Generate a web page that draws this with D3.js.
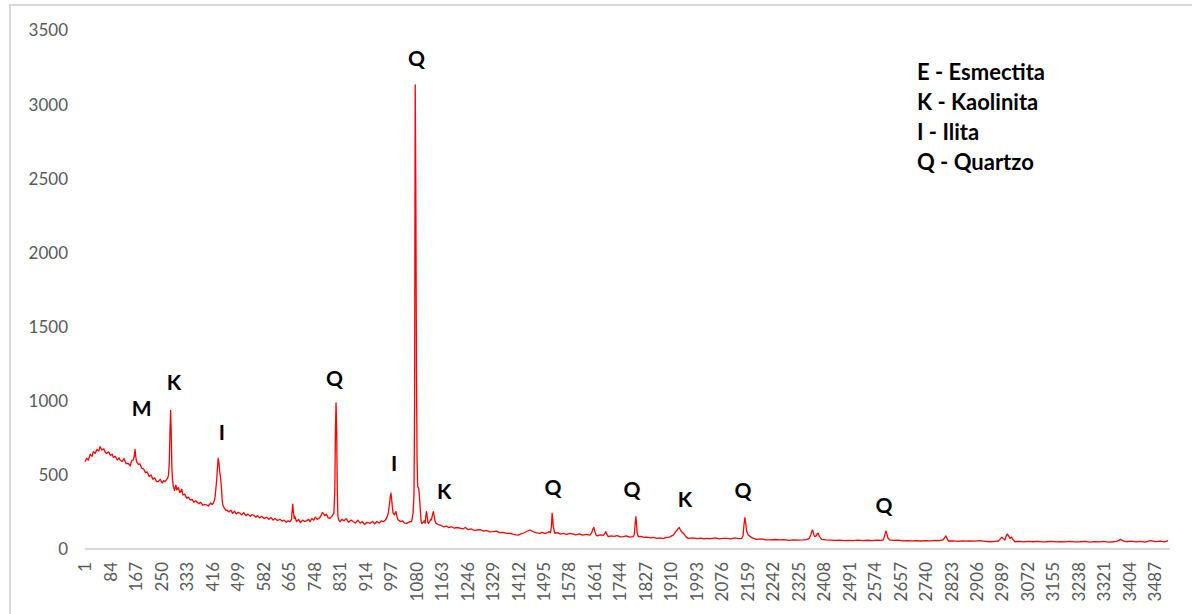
<!DOCTYPE html>
<html lang="en">
<head>
<meta charset="UTF-8">
<title>DRX - argila</title>
<script src="https://cdn.jsdelivr.net/npm/d3@7"></script>
<style>
  body { margin: 0; background: #fff; }
  svg { display: block; }
  .tick text { font-family: Lato, "Open Sans", sans-serif; fill: #595959; }
</style>
</head>
<body>
<svg id="chart" width="1192" height="614"></svg>
<script>
const channel = [1,6,12,18,24,28,34,40,46,50,56,62,68,72,78,84,90,93,100,106,112,115,122,128,135,142,148,153,158,161,164,166,169,175,180,186,192,198,204,210,216,222,228,234,240,246,252,258,262,267,270,273,275,276,278,280,282,284,286,289,293,297,300,305,310,316,320,326,332,338,344,350,356,362,365,372,378,385,390,397,403,410,415,419,423,425,428,430,433,435,437,440,443,446,448,450,455,460,463,470,476,482,488,494,500,506,512,518,525,532,540,545,550,557,563,570,577,585,593,600,607,614,620,628,636,643,650,657,663,669,674,676,678,680,683,685,690,697,703,710,716,723,730,734,740,746,752,758,764,770,774,777,782,788,793,799,805,810,812,815,817,819,821,823,825,828,832,838,845,852,860,868,875,882,890,898,905,912,920,930,938,945,952,960,967,973,980,985,989,993,996,998,1000,1003,1005,1009,1012,1014,1017,1020,1022,1028,1035,1042,1049,1055,1060,1065,1070,1073,1075,1076,1077,1079,1081,1083,1085,1088,1090,1093,1096,1098,1103,1106,1109,1112,1114,1116,1118,1120,1124,1127,1130,1133,1136,1139,1142,1145,1152,1160,1169,1178,1186,1195,1205,1214,1223,1232,1240,1250,1260,1270,1277,1290,1300,1310,1320,1331,1342,1352,1363,1375,1386,1395,1405,1413,1420,1430,1440,1451,1460,1470,1483,1490,1500,1508,1514,1518,1521,1523,1525,1527,1532,1540,1550,1560,1570,1580,1592,1600,1612,1622,1635,1646,1652,1656,1659,1662,1666,1670,1680,1690,1695,1698,1701,1706,1715,1725,1735,1745,1755,1765,1775,1787,1791,1794,1796,1798,1800,1804,1812,1822,1832,1843,1853,1864,1875,1885,1895,1905,1912,1918,1925,1931,1937,1942,1946,1950,1955,1960,1967,1980,1995,2008,2016,2026,2040,2055,2068,2080,2092,2105,2118,2130,2141,2145,2148,2151,2154,2157,2162,2168,2175,2189,2205,2220,2233,2250,2263,2280,2295,2310,2325,2341,2352,2361,2366,2369,2372,2375,2379,2384,2387,2390,2394,2401,2415,2430,2445,2460,2475,2490,2504,2520,2535,2550,2565,2580,2595,2602,2606,2609,2611,2614,2617,2622,2635,2650,2665,2680,2695,2710,2722,2740,2755,2770,2785,2797,2802,2806,2810,2814,2830,2845,2860,2872,2884,2900,2917,2935,2950,2965,2977,2982,2988,2993,2998,3002,3006,3010,3015,3020,3024,3031,3045,3060,3075,3090,3105,3120,3134,3150,3165,3180,3195,3210,3225,3243,3260,3275,3290,3305,3320,3335,3351,3362,3370,3375,3380,3388,3395,3410,3425,3440,3455,3473,3490,3505,3518,3530];
const counts = [589,610,600,640,625,656,645,672,660,690,668,675,650,645,655,630,640,618,625,600,615,600,590,610,575,578,560,595,600,620,672,630,589,570,575,544,540,515,520,488,500,470,480,455,454,470,445,460,454,470,475,499,560,612,800,935,780,555,470,420,395,430,398,415,380,403,365,370,342,350,330,335,315,325,319,305,315,295,300,297,290,310,300,308,330,353,420,465,560,612,590,520,477,400,330,297,275,260,263,250,262,240,255,235,248,241,230,245,225,235,220,232,229,215,225,210,220,205,214,200,212,195,205,192,200,188,195,180,190,184,200,260,303,250,205,218,185,200,178,195,185,191,200,184,205,195,215,200,207,225,245,241,225,235,210,207,220,235,241,400,800,985,800,400,218,195,184,200,190,205,180,195,184,175,195,175,185,165,180,173,185,170,185,175,190,184,195,215,241,300,360,376,340,270,241,230,245,252,225,200,196,185,190,175,173,180,185,184,240,376,1000,2200,3130,2400,1200,600,420,410,376,280,190,173,180,190,173,230,252,220,180,173,185,200,196,230,252,220,185,173,165,160,150,155,145,150,140,145,140,135,145,130,135,125,128,130,120,125,115,117,120,110,112,105,106,100,95,94,100,108,118,128,118,110,106,112,105,110,117,110,160,241,200,150,106,110,100,105,98,105,101,95,102,93,98,94,110,135,146,120,95,88,95,92,105,117,100,83,88,85,90,82,83,88,80,83,100,180,218,170,110,83,85,78,80,75,78,72,75,70,78,80,88,94,115,130,146,125,115,106,95,80,72,75,70,74,68,72,70,75,68,72,72,68,75,70,72,90,160,211,170,120,94,85,75,65,68,62,61,64,61,63,58,62,60,61,63,72,95,120,128,100,83,90,105,106,85,65,62,60,58,60,57,58,56,60,57,59,56,60,58,61,85,110,121,100,75,61,58,60,55,57,55,56,54,57,55,58,56,61,75,88,70,54,55,52,55,53,54,53,56,52,49,52,54,65,79,70,61,85,101,90,72,80,65,49,52,48,51,49,52,48,49,51,48,50,48,52,48,49,51,47,50,48,51,47,49,52,58,65,58,52,49,53,48,52,47,56,50,53,48,56];

const xLabels = [1,84,167,250,333,416,499,582,665,748,831,914,997,1080,1163,1246,1329,1412,1495,1578,1661,1744,1827,1910,1993,2076,2159,2242,2325,2408,2491,2574,2657,2740,2823,2906,2989,3072,3155,3238,3321,3404,3487];
const yTicks = [0,500,1000,1500,2000,2500,3000,3500];
const lastChannel = 3533;

// peak labels: letter, channel, count where the letter's baseline sits
const peakLetters = ["M","K","I","Q","I","Q","K","Q","Q","K","Q","Q"];
const peakChannels = [186,291,447,814,1008,1081,1171,1526,1783,1956,2145,2604];
const peakCounts = [897,1072,735,1099,528,3257,337,364,351,283,344,243];

const legendLines = ["E - Esmectita","K - Kaolinita","I - Ilita","Q - Quartzo"];

const svg = d3.select("#chart");

// outer frame of the chart
svg.append("rect")
  .attr("x", 10).attr("y", 5)
  .attr("width", 1200).attr("height", 640)
  .attr("fill", "none")
  .attr("stroke", "#d9d9d9")
  .attr("stroke-width", 2);

const x = d3.scaleLinear().domain([1, lastChannel]).range([85, 1169]);
const y = d3.scaleLinear().domain([0, 3500]).range([549, 30]);

// y axis (labels only)
const yAxis = svg.append("g")
  .attr("transform", "translate(68,0)")
  .call(d3.axisLeft(y).tickValues(yTicks).tickSize(0).tickPadding(0).tickFormat(d3.format("d")));
yAxis.select(".domain").remove();
yAxis.selectAll("text").attr("font-size", 17).attr("dy", "0.35em");

// x axis
const xAxis = svg.append("g")
  .attr("transform", "translate(0,549)")
  .call(d3.axisBottom(x).tickValues(xLabels).tickSize(0).tickSizeOuter(0).tickFormat(d3.format("d")));
xAxis.select(".domain")
  .attr("d", "M85,0H1170")
  .attr("stroke", "#d9d9d9")
  .attr("stroke-width", 2);
xAxis.selectAll("text")
  .attr("font-size", 17)
  .attr("transform", "rotate(-90)")
  .attr("text-anchor", "end")
  .attr("x", -13)
  .attr("y", 0)
  .attr("dy", "0.35em");

// the diffractogram
const points = channel.map((c, i) => [c, counts[i]]);
svg.append("path")
  .datum(points)
  .attr("fill", "none")
  .attr("stroke", "#ff0000")
  .attr("stroke-width", 1.3)
  .attr("stroke-linejoin", "round")
  .attr("d", d3.line().x(d => x(d[0])).y(d => y(d[1])));

// peak letters
svg.append("g")
  .selectAll("text")
  .data(peakLetters)
  .join("text")
  .attr("x", (d, i) => x(peakChannels[i]))
  .attr("y", (d, i) => y(peakCounts[i]))
  .attr("text-anchor", "middle")
  .attr("font-family", "Lato, 'Open Sans', sans-serif")
  .attr("font-weight", "bold")
  .attr("font-size", 21)
  .attr("fill", "#000")
  .text(d => d);

// legend text
svg.append("g")
  .selectAll("text")
  .data(legendLines)
  .join("text")
  .attr("x", 917)
  .attr("y", (d, i) => 80 + i * 30)
  .attr("font-family", "Lato, 'Open Sans', sans-serif")
  .attr("font-weight", "bold")
  .attr("font-size", 22)
  .attr("fill", "#000")
  .text(d => d);
</script>
</body>
</html>
